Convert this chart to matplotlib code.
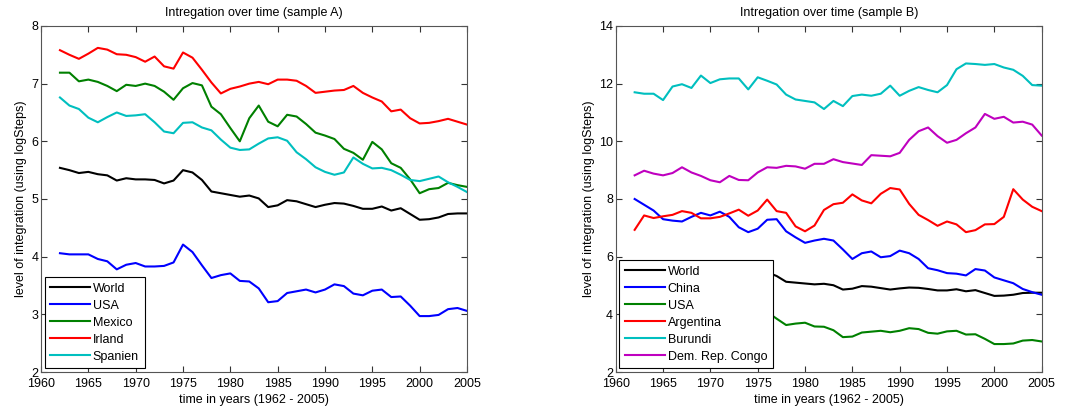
import numpy as np
import matplotlib
matplotlib.use("Agg")
import matplotlib.pyplot as plt

plt.rcParams['font.family'] = ['Liberation Sans', 'DejaVu Sans']

years = list(range(1962, 2006))

world = [5.54, 5.50, 5.45, 5.47, 5.43, 5.41, 5.32, 5.36, 5.34, 5.34, 5.33, 5.27, 5.32, 5.50, 5.46,
         5.33, 5.13, 5.10, 5.07, 5.04, 5.06, 5.01, 4.86, 4.89, 4.98, 4.96, 4.91, 4.86, 4.90, 4.93,
         4.92, 4.88, 4.83, 4.83, 4.87, 4.80, 4.84, 4.74, 4.64, 4.65, 4.68, 4.74, 4.75, 4.75]
usa = [4.06, 4.04, 4.04, 4.04, 3.96, 3.92, 3.78, 3.86, 3.89, 3.83, 3.83, 3.84, 3.90, 4.21, 4.08,
       3.85, 3.63, 3.68, 3.71, 3.58, 3.57, 3.45, 3.21, 3.23, 3.37, 3.40, 3.43, 3.38, 3.43, 3.52,
       3.49, 3.36, 3.33, 3.41, 3.43, 3.30, 3.31, 3.15, 2.97, 2.97, 2.99, 3.09, 3.11, 3.06]
mexico = [7.19, 7.19, 7.04, 7.07, 7.03, 6.96, 6.87, 6.98, 6.96, 7.00, 6.96, 6.86, 6.72, 6.92, 7.01,
          6.97, 6.60, 6.47, 6.23, 6.00, 6.40, 6.62, 6.34, 6.26, 6.46, 6.43, 6.30, 6.15, 6.10, 6.04,
          5.87, 5.80, 5.68, 5.99, 5.86, 5.62, 5.54, 5.34, 5.10, 5.17, 5.19, 5.28, 5.24, 5.21]
irland = [7.58, 7.50, 7.43, 7.52, 7.62, 7.59, 7.51, 7.50, 7.46, 7.38, 7.47, 7.30, 7.26, 7.54, 7.45,
          7.24, 7.02, 6.83, 6.91, 6.95, 7.00, 7.03, 6.99, 7.07, 7.07, 7.05, 6.96, 6.84, 6.86, 6.88,
          6.89, 6.96, 6.84, 6.76, 6.69, 6.52, 6.55, 6.40, 6.31, 6.32, 6.35, 6.39, 6.34, 6.29]
spanien = [6.76, 6.62, 6.56, 6.41, 6.33, 6.42, 6.50, 6.44, 6.45, 6.47, 6.33, 6.17, 6.14, 6.32, 6.33,
           6.24, 6.19, 6.03, 5.89, 5.85, 5.86, 5.96, 6.05, 6.07, 6.01, 5.81, 5.69, 5.55, 5.47, 5.42,
           5.46, 5.72, 5.61, 5.53, 5.54, 5.50, 5.42, 5.33, 5.31, 5.35, 5.39, 5.29, 5.21, 5.12]

china = [8.00, 7.80, 7.60, 7.30, 7.25, 7.22, 7.38, 7.52, 7.43, 7.56, 7.38, 7.02, 6.85, 6.97, 7.28,
         7.30, 6.88, 6.67, 6.48, 6.56, 6.62, 6.56, 6.25, 5.92, 6.12, 6.18, 5.98, 6.02, 6.21, 6.12,
         5.92, 5.60, 5.53, 5.43, 5.41, 5.35, 5.57, 5.52, 5.28, 5.18, 5.08, 4.88, 4.77, 4.68]
argentina = [6.93, 7.43, 7.34, 7.40, 7.45, 7.58, 7.52, 7.33, 7.33, 7.38, 7.50, 7.63, 7.42, 7.60, 7.98,
             7.58, 7.52, 7.05, 6.88, 7.08, 7.62, 7.82, 7.87, 8.16, 7.95, 7.85, 8.18, 8.38, 8.33, 7.83,
             7.45, 7.27, 7.07, 7.22, 7.12, 6.85, 6.92, 7.12, 7.13, 7.38, 8.34, 7.98, 7.73, 7.58]
burundi = [11.70, 11.65, 11.65, 11.43, 11.90, 11.98, 11.85, 12.28, 12.02, 12.15, 12.18, 12.18, 11.80, 12.22, 12.10,
           11.97, 11.62, 11.45, 11.40, 11.35, 11.12, 11.40, 11.22, 11.57, 11.62, 11.58, 11.65, 11.93, 11.58, 11.75,
           11.88, 11.78, 11.70, 11.95, 12.50, 12.70, 12.68, 12.65, 12.68, 12.56, 12.48, 12.27, 11.95, 11.93]
congo = [8.82, 8.98, 8.88, 8.82, 8.90, 9.10, 8.92, 8.80, 8.65, 8.58, 8.80, 8.66, 8.65, 8.92, 9.10,
         9.08, 9.15, 9.13, 9.05, 9.22, 9.22, 9.38, 9.28, 9.23, 9.18, 9.52, 9.50, 9.48, 9.60, 10.05,
         10.35, 10.48, 10.18, 9.95, 10.05, 10.28, 10.48, 10.95, 10.78, 10.85, 10.65, 10.68, 10.58, 10.20]

BLUE = (0, 0, 1)
GREEN = (0, 0.5, 0)
RED = (1, 0, 0)
CYAN = (0, 0.75, 0.75)
MAG = (0.75, 0, 0.75)

series_a = [("World", world, "k"), ("USA", usa, BLUE), ("Mexico", mexico, GREEN),
            ("Irland", irland, RED), ("Spanien", spanien, CYAN)]
series_b = [("World", world, "k"), ("China", china, BLUE), ("USA", usa, GREEN),
            ("Argentina", argentina, RED), ("Burundi", burundi, CYAN),
            ("Dem. Rep. Congo", congo, MAG)]

FS = 9

fig = plt.figure(figsize=(10.74, 4.12), dpi=100)
ax1 = fig.add_axes([0.0382, 0.097, 0.3966, 0.84])
ax2 = fig.add_axes([0.5733, 0.097, 0.3966, 0.84])


def style(ax, series, ylim, yticks, title):
    for name, vals, c in series:
        ax.plot(years, vals, color=c, lw=1.5, label=name)
    ax.set_xlim(1960, 2005)
    ax.set_ylim(*ylim)
    ax.set_xticks(range(1960, 2006, 5))
    ax.set_yticks(yticks)
    ax.tick_params(direction='in', top=True, right=True, labelsize=FS,
                   length=4, width=0.8, color='#333333')
    ax.tick_params(axis='x', pad=4)
    ax.tick_params(axis='y', pad=2)
    for s in ax.spines.values():
        s.set_color('#555555')
        s.set_linewidth(0.8)
    ax.set_title(title, fontsize=FS, pad=7)
    ax.set_xlabel("time in years (1962 - 2005)", fontsize=FS, labelpad=3)
    ax.set_ylabel("level of integration (using logSteps)", fontsize=FS, labelpad=3)
    leg = ax.legend(loc='lower left', fontsize=FS, handlelength=3.2, fancybox=False,
                    framealpha=1, edgecolor='k', borderpad=0.45, labelspacing=0.4,
                    handletextpad=0.2, borderaxespad=0.3)
    leg.get_frame().set_linewidth(0.8)


style(ax1, series_a, (2, 8), range(2, 9), "Intregation over time (sample A)")
style(ax2, series_b, (2, 14), range(2, 15, 2), "Intregation over time (sample B)")

fig.savefig("out.png", dpi=100)
